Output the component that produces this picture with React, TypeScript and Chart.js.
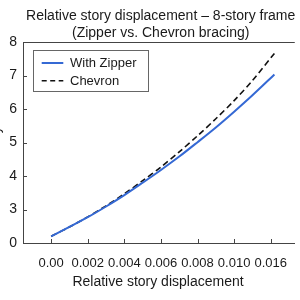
import React, { useEffect, useRef } from "react";
import { Chart, registerables } from "chart.js";

Chart.register(...registerables);

// ---- data ----
const xValues = [0, 0.001, 0.002, 0.003, 0.004, 0.005, 0.006, 0.007, 0.008, 0.009, 0.01, 0.011, 0.0122];
const zipperValues = [2.2, 2.48, 2.77, 3.09, 3.43, 3.8, 4.18, 4.58, 5.01, 5.45, 5.92, 6.41, 7.03];
const chevronValues = [2.2, 2.48, 2.78, 3.11, 3.47, 3.86, 4.27, 4.72, 5.2, 5.71, 6.25, 6.85, 7.66];
const seriesNames = ["With Zipper", "Chevron"];

const xTickValues = [0, 0.002, 0.004, 0.006, 0.008, 0.01, 0.012];
const xTickLabels = ["0.00", "0.002", "0.004", "0.006", "0.008", "0.010", "0.016"];
const yTickValues = [2, 3, 4, 5, 6, 7, 8];
const yTickLabels = ["0", "3", "4", "5", "6", "7", "8"];

const titleLines = ["Relative story displacement \u2013 8-story frame", "(Zipper vs. Chevron bracing)"];
const xTitle = "Relative story displacement";
const yTitle = "Story";

const FONT = "'Liberation Sans', Arial, Helvetica, sans-serif";
const TEXT = "#1a1a1a";
const AXIS = "#444444";
const BLUE = "#3569d4";

function labelFor(values: number[], labels: string[], v: number) {
  const i = values.findIndex((t) => Math.abs(t - v) < 1e-9);
  return i >= 0 ? labels[i] : "";
}

const decor = {
  id: "decor",
  afterDraw(chart: any) {
    const { ctx, chartArea: a, scales } = chart;
    const xs = scales.x;
    const ys = scales.y;
    ctx.save();
    // top frame line
    ctx.strokeStyle = AXIS;
    ctx.lineWidth = 1;
    ctx.beginPath();
    ctx.moveTo(a.left, Math.round(a.top) + 0.5);
    ctx.lineTo(a.right, Math.round(a.top) + 0.5);
    ctx.stroke();
    // inward tick marks
    ctx.beginPath();
    xTickValues.forEach((v) => {
      const px = Math.round(xs.getPixelForValue(v)) + 0.5;
      ctx.moveTo(px, a.bottom);
      ctx.lineTo(px, a.bottom - 4);
    });
    yTickValues.forEach((v) => {
      const py = Math.round(ys.getPixelForValue(v)) + 0.5;
      ctx.moveTo(a.left, py);
      ctx.lineTo(a.left + 4, py);
    });
    ctx.stroke();

    // title
    ctx.fillStyle = TEXT;
    ctx.font = `14px ${FONT}`;
    ctx.textAlign = "center";
    ctx.textBaseline = "alphabetic";
    ctx.fillText(titleLines[0], 160.7, 20);
    ctx.fillText(titleLines[1], 160.7, 37);

    // x title
    ctx.fillText(xTitle, 158, 286);

    // y title (mostly clipped at the left edge)
    ctx.save();
    ctx.translate(0, (a.top + a.bottom) / 2);
    ctx.rotate(-Math.PI / 2);
    ctx.fillText(yTitle, 0, 0);
    ctx.restore();

    // legend
    const bx = 33.5, by = 50.5, bw = 115, bh = 41;
    ctx.fillStyle = "#ffffff";
    ctx.fillRect(bx, by, bw, bh);
    ctx.strokeStyle = "#666666";
    ctx.lineWidth = 1;
    ctx.strokeRect(bx, by, bw, bh);
    const rows = [63, 80.7];
    const styles = [
      { color: BLUE, dash: [] as number[], width: 2 },
      { color: "#111111", dash: [5, 3.5], width: 1.6 },
    ];
    rows.forEach((ry, i) => {
      ctx.strokeStyle = styles[i].color;
      ctx.lineWidth = styles[i].width;
      ctx.setLineDash(styles[i].dash);
      ctx.beginPath();
      ctx.moveTo(41.7, ry);
      ctx.lineTo(63.3, ry);
      ctx.stroke();
      ctx.setLineDash([]);
      ctx.fillStyle = TEXT;
      ctx.font = `13px ${FONT}`;
      ctx.textAlign = "left";
      ctx.textBaseline = "middle";
      ctx.fillText(seriesNames[i], 70, ry + 0.5);
    });
    ctx.restore();
  },
};

export default function App() {
  const ref = useRef<HTMLCanvasElement | null>(null);

  useEffect(() => {
    if (!ref.current) return;
    const chart = new Chart(ref.current, {
      type: "line",
      data: {
        datasets: [
          {
            label: seriesNames[0],
            data: xValues.map((x, i) => ({ x, y: zipperValues[i] })),
            borderColor: BLUE,
            borderWidth: 2,
            pointRadius: 0,
            tension: 0.3,
            fill: false,
          },
          {
            label: seriesNames[1],
            data: xValues.map((x, i) => ({ x, y: chevronValues[i] })),
            borderColor: "#111111",
            borderWidth: 1.6,
            borderDash: [6, 3.5],
            pointRadius: 0,
            tension: 0.3,
            fill: false,
          },
        ],
      },
      options: {
        responsive: false,
        animation: false,
        devicePixelRatio: 1,
        layout: { padding: { top: 42, left: 0, right: 0, bottom: 0 } },
        plugins: {
          legend: { display: false },
          title: { display: false },
          tooltip: { enabled: false },
        },
        scales: {
          x: {
            type: "linear",
            min: -0.001539,
            max: 0.013314,
            afterBuildTicks: (s: any) => {
              s.ticks = xTickValues.map((value) => ({ value }));
            },
            afterFit: (s: any) => {
              s.height = 57;
            },
            ticks: {
              autoSkip: false,
              maxRotation: 0,
              padding: 13,
              color: TEXT,
              font: { family: FONT, size: 13 },
              callback: (v: any) => labelFor(xTickValues, xTickLabels, Number(v)),
            },
            grid: { display: true, drawOnChartArea: false, drawTicks: false },
            border: { display: true, color: AXIS, width: 1 },
          },
          y: {
            type: "linear",
            min: 2,
            max: 8,
            afterBuildTicks: (s: any) => {
              s.ticks = yTickValues.map((value) => ({ value }));
            },
            afterFit: (s: any) => {
              s.width = 23;
            },
            ticks: {
              autoSkip: false,
              padding: 6,
              color: TEXT,
              font: { family: FONT, size: 14 },
              callback: (v: any) => labelFor(yTickValues, yTickLabels, Number(v)),
            },
            grid: { display: true, drawOnChartArea: false, drawTicks: false },
            border: { display: true, color: AXIS, width: 1 },
          },
        },
      },
      plugins: [decor],
    } as any);
    return () => chart.destroy();
  }, []);

  return (
    <div style={{ position: "absolute", left: 0, top: 0, width: 300, height: 300, overflow: "hidden", background: "#fff" }}>
      <canvas ref={ref} width={300} height={300} style={{ display: "block" }} />
    </div>
  );
}
